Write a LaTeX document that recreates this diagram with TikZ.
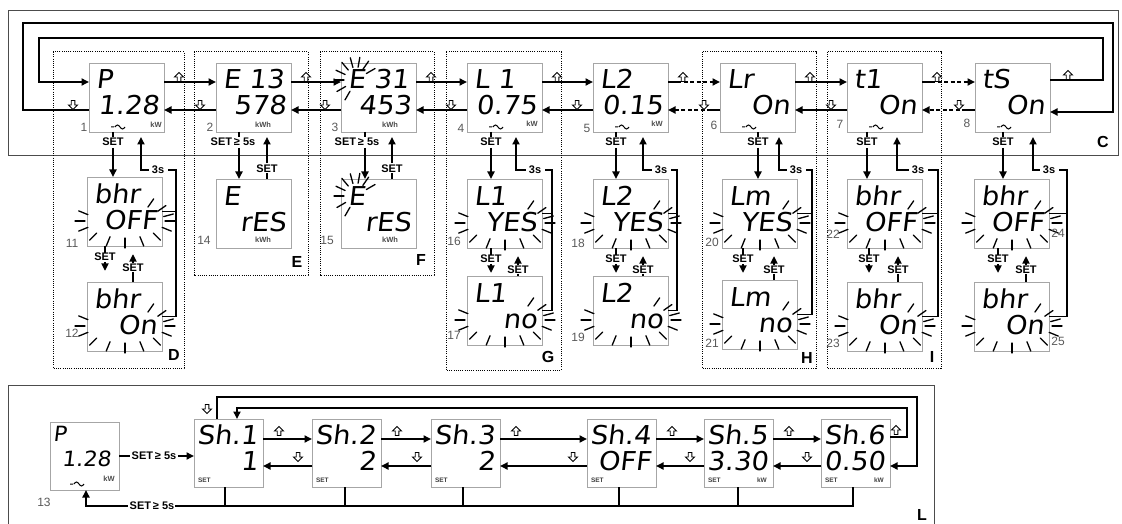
\documentclass[tikz,border=0pt]{standalone}
\usepackage{fontspec}
\setmainfont{Liberation Sans}
\newfontfamily\lcdf[FakeSlant=0.12,FakeStretch=1.05]{DejaVu Sans}
\usetikzlibrary{arrows.meta,calc}
\tikzset{
  every node/.style={inner sep=0pt,outer sep=0pt},
  lcd/.style={draw=black!35,line width=0.9pt,fill=white,minimum width=75pt,minimum height=69pt,anchor=north west},
  lcdsm/.style={lcd,minimum width=69pt,minimum height=68pt},
  lt/.style={font=\lcdf\fontsize{26}{26}\selectfont,anchor=base west},
  lb/.style={font=\lcdf\fontsize{26}{26}\selectfont,anchor=base east},
  ln/.style={line width=1.8pt},
  atip/.style={-{Triangle[length=7.5pt,width=7pt]}},
  arr/.style={ln,atip},
  dln/.style={ln,dash pattern=on 4pt off 2.5pt},
  grp/.style={line width=1pt,dash pattern=on 1pt off 1.2pt},
  frm/.style={line width=0.9pt,draw=black!70},
  lbl/.style={font=\bfseries\fontsize{11}{11}\selectfont},
  num/.style={font=\fontsize{12}{12}\selectfont,text=black!65},
  glet/.style={font=\bfseries\fontsize{16}{16}\selectfont},
  unitlbl/.style={font=\bfseries\fontsize{7.5}{7.5}\selectfont,text=black!70},
  tinylbl/.style={font=\bfseries\fontsize{6.5}{6.5}\selectfont,text=black!75},
  ray/.style={line width=1.3pt,line cap=round},
  tl/.style={line width=1pt},
  uarr/.pic={\draw[line width=0.9pt,fill=white] (0,-4.5)--(4.5,0)--(1.8,0)--(1.8,4.5)--(-1.8,4.5)--(-1.8,0)--(-4.5,0)--cycle;},
  darr/.pic={\draw[line width=0.9pt,fill=white] (0,4.5)--(4.5,0)--(1.8,0)--(1.8,-4.5)--(-1.8,-4.5)--(-1.8,0)--(-4.5,0)--cycle;},
}
\newcommand{\lcdtext}[3]{%
  \node[lt] (#1-t) at ($(#1.north west)+(7,26)$) {#2};
  \node[lb] (#1-b) at ($(#1.north east)+(-5,52)$) {#3};}
\newcommand{\lcdtextL}[3]{%
  \node[lt] (#1-t) at ($(#1.north west)+(3,25)$) {#2};
  \node[lb] (#1-b) at ($(#1.north east)+(-5,51)$) {#3};}
\newcommand{\tildmark}[1]{\draw[tl] ($(#1.south west)+(22,-5)$) -- ++(3,0) ++(1,0) sin ++(2.5,-2) cos ++(2.5,2) sin ++(2.5,2) cos ++(2.5,-2);}
\def\botang{0,22,45,68,90,112,135,158,180,202,305,325,345}
\def\Eang{120,150,180,205,230,255,280,305,330}
\newcommand{\blinkrays}[4]{\foreach \a in #4 {\draw[ray] (#1) ++(\a:#2 and #3) -- ++(\a:10);}}
\begin{document}
\begin{tikzpicture}[x=1pt,y=-1pt]
\useasboundingbox (0,0) rectangle (1122,524);
% frames
\draw[frm] (8,10) rectangle (1118,155);
\draw[frm] (8,526) -- (8,385) -- (934,385) -- (934,526);
% groups
\draw[grp] (53,52) rectangle (184,368);
\draw[grp] (194,52) rectangle (308,275);
\draw[grp] (320,52) rectangle (434,275);
\draw[grp] (446,52) rectangle (561,370);
\draw[grp] (702,52) rectangle (816,368);
\draw[grp] (827,52) rectangle (941,368);
% top boxes
\node[lcd] (b1) at (89,63) {};
\node[lcd] (b2) at (216,63) {};
\node[lcd] (b3) at (341,63) {};
\node[lcd] (b4) at (467,63) {};
\node[lcd] (b5) at (593,63) {};
\node[lcd] (b6) at (720,63) {};
\node[lcd] (b7) at (847,63) {};
\node[lcd] (b8) at (975,63) {};
% lower boxes
\node[lcd] (b11) at (87,177) {};
\node[lcd] (b12) at (87,282) {};
\node[lcd] (b14) at (216,179) {};
\node[lcd] (b15) at (341,179) {};
\node[lcd] (b16) at (467,179) {};
\node[lcd] (b17) at (467,276) {};
\node[lcd] (b18) at (593,179) {};
\node[lcd] (b19) at (593,276) {};
\node[lcd] (b20) at (722,179) {};
\node[lcd] (b21) at (722,280) {};
\node[lcd] (b22) at (847,179) {};
\node[lcd] (b23) at (847,282) {};
\node[lcd] (b24) at (974,179) {};
\node[lcd] (b25) at (974,282) {};
% L row boxes
\node[lcdsm] (b13) at (50,422) {};
\node[lcdsm] (s1) at (194,419) {};
\node[lcdsm] (s2) at (312,419) {};
\node[lcdsm] (s3) at (431,419) {};
\node[lcdsm] (s4) at (587,419) {};
\node[lcdsm] (s5) at (704,419) {};
\node[lcdsm] (s6) at (821,419) {};
% blinking rays
\coordinate (k3) at ($(b3.north west)+(15,17)$); \blinkrays{k3}{12}{13}{\Eang}
\coordinate (k15) at ($(b15.north west)+(15,17)$); \blinkrays{k15}{12}{13}{\Eang}
\foreach \bx in {b11,b12,b16,b17,b18,b19,b20,b21,b22,b23,b24,b25}{
  \coordinate (k\bx) at ($(\bx.north west)+(38,44)$);
  \blinkrays{k\bx}{40}{17}{\botang}
}
% display texts
\lcdtext{b1}{P}{1.28}
\lcdtext{b2}{E 13}{578}
\lcdtext{b3}{E 31}{453}
\lcdtext{b4}{L 1}{0.75}
\lcdtext{b5}{L2}{0.15}
\lcdtext{b6}{Lr}{On}
\lcdtext{b7}{t1}{On}
\lcdtext{b8}{tS}{On}
\lcdtext{b11}{bhr}{OFF}
\lcdtext{b12}{bhr}{On}
\lcdtext{b14}{E}{rES}
\lcdtext{b15}{E}{rES}
\lcdtext{b16}{L1}{YES}
\lcdtext{b17}{L1}{no}
\lcdtext{b18}{L2}{YES}
\lcdtext{b19}{L2}{no}
\lcdtext{b20}{Lm}{YES}
\lcdtext{b21}{Lm}{no}
\lcdtext{b22}{bhr}{OFF}
\lcdtext{b23}{bhr}{On}
\lcdtext{b24}{bhr}{OFF}
\lcdtext{b25}{bhr}{On}
\node[font=\lcdf\fontsize{21}{21}\selectfont,anchor=base west] (b13-t) at ($(b13.north west)+(3,19)$) {P};
\node[font=\lcdf\fontsize{21}{21}\selectfont,anchor=base east] (b13-b) at ($(b13.north east)+(-8,44)$) {1.28};
\lcdtextL{s1}{Sh.1}{1}
\lcdtextL{s2}{Sh.2}{2}
\lcdtextL{s3}{Sh.3}{2}
\lcdtextL{s4}{Sh.4}{OFF}
\lcdtextL{s5}{Sh.5}{3.30}
\lcdtextL{s6}{Sh.6}{0.50}
% tilde marks
\foreach \bx in {b1,b4,b5,b6,b7,b8}{\tildmark{\bx}}
\draw[tl] ($(b13.south west)+(20,-6)$) -- ++(3,0) ++(1,0) sin ++(2.5,-2) cos ++(2.5,2) sin ++(2.5,2) cos ++(2.5,-2);
% units
\node[unitlbl] (u1) at (156,125) {kW};
\node[unitlbl] (u2) at (263,125) {kWh};
\node[unitlbl] (u3) at (390,125) {kWh};
\node[unitlbl] (u4) at (532,124) {kW};
\node[unitlbl] (u5) at (657,124) {kW};
\node[unitlbl] (u14) at (263,240) {kWh};
\node[unitlbl] (u15) at (390,240) {kWh};
\node[unitlbl] (u13) at (109,479) {kW};
\node[tinylbl] (us5) at (762,480) {kW};
\node[tinylbl] (us6) at (879,480) {kW};
\foreach \sb in {s1,s2,s3,s4,s5,s6}{\node[tinylbl,anchor=west] (st\sb) at ($(\sb.south west)+(4,-7)$) {SET};}
% numbers
\foreach \nm/\px/\py in {1/84/127,2/210/127,3/335/127,4/461/128,5/587/128,6/714/125,7/840/124,8/967/123,11/72/243,12/72/333,14/204/240,15/327/240,16/454/241,17/454/335,18/578/243,19/578/337,20/712/242,21/712/343,22/833/234,23/833/343,24/1058/233,25/1058/341,13/44/502}{
  \node[num] (n\nm) at (\px,\py) {\nm};}
% group letters
\node[glet] (lC) at (1103,142) {C};
\node[glet] (lD) at (174,355) {D};
\node[glet] (lE) at (297,262) {E};
\node[glet] (lF) at (421,260) {F};
\node[glet] (lG) at (548,357) {G};
\node[glet] (lH) at (807,358) {H};
\node[glet] (lI) at (932,357) {I};
\node[glet] (lL) at (922,515) {L};
% top row horizontal links
\foreach \pa/\pb in {b1/b2,b2/b3,b3/b4,b4/b5,b5/b6,b6/b7,b7/b8}{
  \coordinate (u) at ($(\pa.north east)+(0,19)$);
  \draw[ln] (u) -- ++(9,0);
  \coordinate (d) at ($(\pb.north west)+(0,47)$);
  \draw[ln] (d) -- ++(-9,0);
}
\foreach \pa/\pb in {b1/b2,b2/b3,b3/b4,b4/b5,b6/b7}{
  \coordinate (u) at ($(\pa.north east)+(0,19)$);
  \draw[arr] ($(u)+(9,0)$) -- (u -| \pb.west);
  \coordinate (d) at ($(\pb.north west)+(0,47)$);
  \draw[arr] ($(d)+(-9,0)$) -- (d -| \pa.east);
}
\foreach \pa/\pb in {b5/b6,b7/b8}{
  \coordinate (u) at ($(\pa.north east)+(0,19)$);
  \draw[dln,atip] ($(u)+(9,0)$) -- (u -| \pb.west);
  \coordinate (d) at ($(\pb.north west)+(0,47)$);
  \draw[dln,atip] ($(d)+(-9,0)$) -- (d -| \pa.east);
}
\foreach \pa/\pb in {b1/b2,b2/b3,b3/b4,b4/b5,b5/b6,b6/b7,b7/b8}{
  \pic at ($(\pa.north east)+(15,14)$) {uarr};
  \pic at ($(\pb.north west)+(-16,42)$) {darr};
}
% loops top
\coordinate (ci1) at (1103,38); \coordinate (ci2) at (39,38);
\draw[arr] ($(b8.north east)+(0,17)$) -| (ci1) -- (ci2) |- ($(b1.north west)+(0,19)$);
\pic at (1068,75) {uarr};
\coordinate (co1) at (23,23); \coordinate (co2) at (1113,23);
\draw[arr] ($(b1.north west)+(0,47)$) -| (co1) -- (co2) |- ($(b8.north east)+(0,49)$);
\pic at (73,105) {darr};
% vertical groups with 3s return
\foreach \tb/\ua/\wb/\dx/\ux/\tx/\bx/\ax/\bbx in {
 b1/b11/b12/113/141/158/176/18/46,
 b4/b16/b17/491/516/535/552/24/51,
 b5/b18/b19/616/643/661/677/23/50,
 b6/b20/b21/758/779/796/812/21/52,
 b7/b22/b23/867/897/918/938/22/51,
 b8/b24/b25/1003/1033/1049/1067/24/52}{
  \node[lbl] (set\tb) at (\dx,142) {SET};
  \draw[ln] (\tb.south -| set\tb) -- ++(0,5);
  \draw[arr] (set\tb.south) ++(0,2) -- (set\tb.south |- \ua.north);
  \node[lbl] (ts\tb) at (\tx,170) {3s};
  \coordinate (up\tb) at (\ux,0);
  \draw[arr,shorten >=5pt] (ts\tb.west) ++(-3,0) -| (\tb.south -| up\tb);
  \coordinate (br\tb) at (\bx,0);
  \draw[ln] (ts\tb.east) ++(4,0) -| (\wb.east -| br\tb) -- (\wb.east);
  \draw[ln] (\ua.east) -- (\ua.east -| br\tb);
  \node[lbl] (sa\tb) at ($(\ua.south west)+(\ax,11)$) {SET};
  \draw[ln] (\ua.south -| sa\tb) -- (sa\tb.north);
  \draw[arr] (sa\tb.south) ++(0,1) -- ++(0,9);
  \node[lbl] (sb\tb) at ($(\ua.south west)+(\bbx,22)$) {SET};
  \draw[ln] (sb\tb.south) -- (sb\tb.south |- \wb.north);
  \draw[arr] (sb\tb.north) ++(0,-1) -- ++(0,-9);
}
% E and F groups
\foreach \tb/\ua/\sx/\dx/\rx in {b2/b14/233/239/267, b3/b15/357/365/392}{
  \node[lbl] (set\tb) at (\sx,142) {SET\,≥ 5s};
  \coordinate (dx\tb) at (\dx,0);
  \draw[ln] (\tb.south -| dx\tb) -- ++(0,5);
  \draw[arr] (set\tb.south -| dx\tb) ++(0,2) -- (\ua.north -| dx\tb);
  \node[lbl] (ret\tb) at (\rx,169) {SET};
  \draw[ln] (\ua.north -| ret\tb) -- (ret\tb.south);
  \draw[arr,shorten >=5pt] (ret\tb.north) ++(0,-2) -- (\tb.south -| ret\tb);
}
% L row links
\foreach \pa/\pb in {s1/s2,s2/s3,s3/s4,s4/s5,s5/s6}{
  \coordinate (u) at ($(\pa.north east)+(0,20)$);
  \draw[arr] (u) -- (u -| \pb.west);
  \coordinate (d) at ($(\pb.north west)+(0,47)$);
  \draw[arr] (d) -- (d -| \pa.east);
}
\foreach \pa/\pb in {s1/s2,s2/s3,s3/s4,s4/s5,s5/s6}{
  \pic at ($(\pa.north east)+(16,12)$) {uarr};
  \pic at ($(\pb.north west)+(-14,38)$) {darr};
}
\coordinate (Li) at (907,408); \coordinate (Lix) at (237,0);
\draw[arr] ($(s6.north east)+(0,18)$) -| (Li) -| (s1.north -| Lix);
\pic at (896,430) {uarr};
\coordinate (Lo) at (917,397); \coordinate (Lox) at (217,0);
\draw[arr] (s1.north -| Lox) |- (Lo) |- ($(s6.north east)+(0,47)$);
\pic at (207,409) {darr};
% entry from 13
\node[lbl] (go13) at (154,456) {SET\,≥ 5s};
\draw[ln] (b13.east |- go13) -- ($(go13.west)+(-2,0)$);
\draw[arr] ($(go13.east)+(2,0)$) -- (go13 -| s1.west);
% bottom bus back to 13
\coordinate (bus) at (0,506);
\foreach \sb/\x in {s1/225,s2/345,s3/463,s4/619,s5/738,s6/853}{
  \coordinate (dr\sb) at (\x,0);
  \draw[ln] (\sb.south -| dr\sb) -- (bus -| dr\sb);
}
\node[lbl] (back13) at (152,506) {SET\,≥ 5s};
\draw[ln,line cap=rect] (bus -| drs6) -- ($(back13.east)+(2,0)$);
\coordinate (x13) at (86,0);
\draw[arr] ($(back13.west)+(-2,0)$) -| (b13.south -| x13);
\end{tikzpicture}
\end{document}
